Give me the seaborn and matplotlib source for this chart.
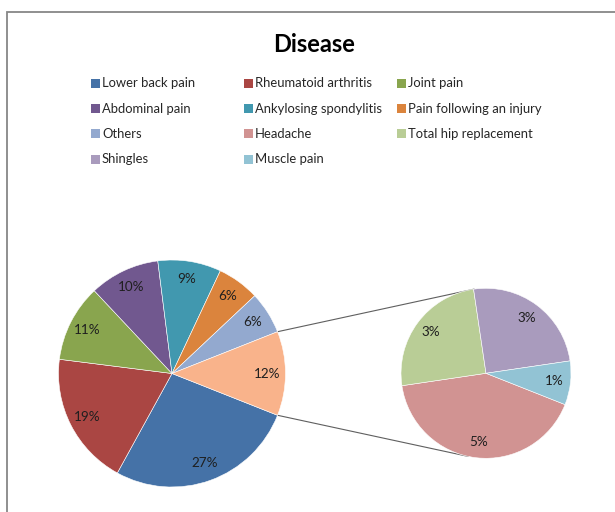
import numpy as np
import matplotlib
matplotlib.use("Agg")
import matplotlib.pyplot as plt
from matplotlib.patches import Rectangle
import seaborn as sns

# ---- data -------------------------------------------------------------
main_labels = ["Lower back pain", "Rheumatoid arthritis", "Joint pain",
               "Abdominal pain", "Ankylosing spondylitis",
               "Pain following an injury", "Others"]
main_values = [27, 19, 11, 10, 9, 6, 6]

sub_labels = ["Headache", "Total hip replacement", "Shingles", "Muscle pain"]
sub_values = [5, 3, 3, 1]

legend_order = ["Lower back pain", "Rheumatoid arthritis", "Joint pain",
                "Abdominal pain", "Ankylosing spondylitis", "Pain following an injury",
                "Others", "Headache", "Total hip replacement",
                "Shingles", "Muscle pain"]

colors = {
    "Lower back pain": "#4572A7",
    "Rheumatoid arthritis": "#AA4643",
    "Joint pain": "#89A54E",
    "Abdominal pain": "#71588F",
    "Ankylosing spondylitis": "#4198AF",
    "Pain following an injury": "#DB843D",
    "Others": "#93A9CF",
    "Headache": "#D19392",
    "Total hip replacement": "#B9CD96",
    "Shingles": "#A99BBD",
    "Muscle pain": "#92C3D4",
}
group_color = "#F9B38B"

# ---- style ------------------------------------------------------------
sns.set_theme(style="white")
plt.rcParams["font.family"] = ["Lato", "DejaVu Sans"]

W, H = 615, 512
fig = plt.figure(figsize=(W / 100, H / 100), dpi=100)
ax = fig.add_axes([0, 0, 1, 1])


def Y(py):
    """Convert a top-down pixel row into the axes' bottom-up coordinate."""
    return H - py


total = sum(main_values) + sum(sub_values)
group_total = sum(sub_values)
half_angle = 360 * group_total / total / 2

text_color = "#1f1f1f"

# main pie: named slices plus the grouped slice that is broken out
main_cx, main_cy, main_r = 172, Y(373.5), 113.5
main_pal = sns.color_palette([colors[k] for k in main_labels] + [group_color])
wedges, _, main_txt = ax.pie(
    main_values + [group_total],
    colors=main_pal,
    startangle=-half_angle,
    counterclock=False,
    center=(main_cx, main_cy),
    radius=main_r,
    autopct=lambda p: f"{p:.0f}%",
    pctdistance=0.84,
    wedgeprops=dict(edgecolor="white", linewidth=0.4),
    textprops=dict(fontsize=9.7, color=text_color),
)

# secondary pie: the breakdown of the grouped slice
sub_cx, sub_cy, sub_r = 486, Y(373.3), 85
sub_pal = sns.color_palette([colors[k] for k in sub_labels])
ax.pie(
    sub_values,
    colors=sub_pal,
    startangle=-half_angle,
    counterclock=False,
    center=(sub_cx, sub_cy),
    radius=sub_r,
    autopct=lambda p: f"{p * group_total / total:.0f}%",
    pctdistance=0.81,
    wedgeprops=dict(edgecolor="white", linewidth=0.4),
    textprops=dict(fontsize=9.7, color=text_color),
)

# connector lines between the grouped slice and the secondary pie
a = np.radians(half_angle)
top_start = (main_cx + main_r * np.cos(a), main_cy + main_r * np.sin(a))
bot_start = (main_cx + main_r * np.cos(-a), main_cy + main_r * np.sin(-a))
ta, ba = np.radians(98), np.radians(-102)
top_end = (sub_cx + sub_r * np.cos(ta), sub_cy + sub_r * np.sin(ta))
bot_end = (sub_cx + sub_r * np.cos(ba), sub_cy + sub_r * np.sin(ba))
for s, e in ((top_start, top_end), (bot_start, bot_end)):
    ax.plot([s[0], e[0]], [s[1], e[1]], color="#5f5f5f", lw=0.8, zorder=0)

# title
ax.text(314, Y(45), "Disease", ha="center", va="center",
        fontsize=17, fontweight="bold", color="black")

# legend laid out row by row in three columns
col_x = [91, 244, 397]
row_y = [83.3, 108.6, 133.9, 159.2]
sq = 9
for i, name in enumerate(legend_order):
    r, c = divmod(i, 3)
    x, y = col_x[c], Y(row_y[r])
    ax.add_patch(Rectangle((x, y - sq / 2), sq, sq, facecolor=colors[name],
                           edgecolor="none"))
    ax.text(x + sq + 2, y, name, ha="left", va="center",
            fontsize=9.4, color="#262626")

# chart-area border (top and left edges fall inside the canvas)
ax.plot([7.3, 7.3, W + 5], [-5, Y(12), Y(12)], color="#878787", lw=1.3,
        solid_joinstyle="miter")

ax.set_xlim(0, W)
ax.set_ylim(0, H)
ax.set_aspect("equal")
ax.axis("off")

fig.savefig("out.png", dpi=100, facecolor="white")
